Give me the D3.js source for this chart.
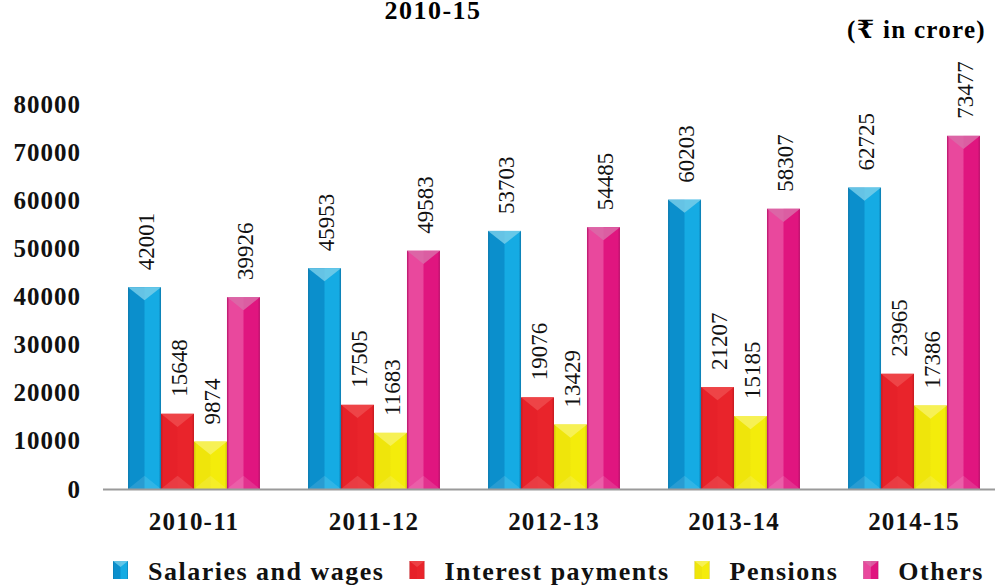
<!DOCTYPE html>
<html>
<head>
<meta charset="utf-8">
<script src="https://cdn.jsdelivr.net/npm/d3@7"></script>
<style>
  html, body { margin: 0; padding: 0; background: #fff; }
  svg { display: block; }
</style>
</head>
<body>
<svg id="chart"></svg>
<script>
// values in ₹ crore
const categories = ['2010-11', '2011-12', '2012-13', '2013-14', '2014-15'];
const seriesNames = ['Salaries and wages', 'Interest payments', 'Pensions', 'Others'];
const salaries = [42001, 45953, 53703, 60203, 62725];
const interest = [15648, 17505, 19076, 21207, 23965];
const pensions = [9874, 11683, 13429, 15185, 17386];
const others = [39926, 49583, 54485, 58307, 73477];
const yTicks = [0, 10000, 20000, 30000, 40000, 50000, 60000, 70000, 80000];

const seriesValues = [salaries, interest, pensions, others];

// shading for the bevelled bars: edge, left half, right half, top face
const shades = [
  { edge: '#0a78ad', left: '#0b8fcc', right: '#15abe3', top: '#76cde9' },
  { edge: '#c41a20', left: '#e62129', right: '#e9242b', top: '#ee4a4c' },
  { edge: '#cfc40a', left: '#efe50b', right: '#f4ec0b', top: '#f7f263' },
  { edge: '#b8106a', left: '#e9489d', right: '#e0157f', top: '#d96ba8' }
];

const width = 995, height = 586;
const svg = d3.select('#chart').attr('width', width).attr('height', height);
const serif = '"Liberation Serif", "DejaVu Serif", serif';

const x0 = d3.scaleBand()
  .domain(categories)
  .range([103, 1005])
  .paddingInner(0.267)
  .paddingOuter(0.139);

const x1 = d3.scaleBand()
  .domain(seriesNames)
  .range([0, x0.bandwidth()]);

const y = d3.scaleLinear()
  .domain([0, 80000])
  .range([489, 104.5]);

// gradients
const defs = svg.append('defs');
shades.forEach((s, i) => {
  const g = defs.append('linearGradient')
    .attr('id', 'bar' + i)
    .attr('x1', '0%').attr('x2', '100%').attr('y1', '0%').attr('y2', '0%');
  [[0, s.edge], [0.07, s.left], [0.47, s.left], [0.53, s.right], [0.93, s.right], [1, s.edge]]
    .forEach(st => g.append('stop').attr('offset', st[0]).attr('stop-color', st[1]));
});

// titles
svg.append('text')
  .attr('x', 433).attr('y', 19)
  .attr('text-anchor', 'middle')
  .style('font-family', serif).style('font-weight', 'bold')
  .style('font-size', '26px').style('letter-spacing', '1.5px')
  .text('2010-15');

svg.append('text')
  .attr('x', 986).attr('y', 38)
  .attr('text-anchor', 'end')
  .style('font-family', serif).style('font-weight', 'bold')
  .style('font-size', '25px').style('letter-spacing', '1.3px')
  .text('(₹ in crore)');

// y axis labels (no line, no ticks)
const yAxis = svg.append('g')
  .attr('transform', 'translate(87,0)')
  .call(d3.axisLeft(y).tickValues(yTicks).tickSize(0).tickPadding(6).tickFormat(d3.format('d')));
yAxis.select('.domain').remove();
yAxis.selectAll('text')
  .style('font-family', serif).style('font-weight', 'bold')
  .style('font-size', '25px').style('letter-spacing', '1px')
  .attr('fill', '#111');

// x axis labels
const xAxis = svg.append('g')
  .attr('transform', 'translate(0,489)')
  .call(d3.axisBottom(x0).tickSize(0).tickPadding(23));
xAxis.select('.domain').remove();
xAxis.selectAll('text')
  .style('font-family', serif).style('font-weight', 'bold')
  .style('font-size', '25px').style('letter-spacing', '1.2px')
  .attr('fill', '#111');

// bars
const rows = [];
categories.forEach((c, ci) => {
  seriesNames.forEach((s, si) => {
    rows.push({ cat: c, series: s, si: si, value: seriesValues[si][ci] });
  });
});

const bars = svg.append('g')
  .selectAll('g')
  .data(rows)
  .join('g')
  .attr('transform', d => `translate(${x0(d.cat) + x1(d.series)},0)`);

const bw = x1.bandwidth();

bars.append('rect')
  .attr('x', 0)
  .attr('y', d => y(d.value))
  .attr('width', bw)
  .attr('height', d => y(0) - y(d.value))
  .attr('fill', d => `url(#bar${d.si})`);

// top bevel
bars.append('path')
  .attr('d', d => {
    const t = y(d.value), h = Math.min(bw * 0.4, (y(0) - t) / 2);
    return `M0,${t}L${bw},${t}L${bw / 2},${t + h}Z`;
  })
  .attr('fill', d => shades[d.si].top)
  .attr('opacity', 0.85);

// bottom bevel
bars.append('path')
  .attr('d', d => {
    const b = y(0), h = Math.min(bw * 0.4, (y(0) - y(d.value)) / 2);
    return `M0,${b}L${bw},${b}L${bw / 2},${b - h}Z`;
  })
  .attr('fill', '#fff')
  .attr('opacity', 0.12);

// value labels, rotated
bars.append('text')
  .attr('transform', d => `translate(${bw / 2 + 1},${y(d.value) - 17}) rotate(-90)`)
  .attr('dy', '0.35em')
  .style('font-family', serif)
  .style('font-size', '23px')
  .attr('fill', '#111')
  .text(d => d.value);

// baseline
svg.append('line')
  .attr('x1', 103).attr('x2', width)
  .attr('y1', y(0) + 0.5).attr('y2', y(0) + 0.5)
  .attr('stroke', '#9a9a9a').attr('stroke-width', 2);

// legend
const legend = svg.append('g').attr('transform', 'translate(113,0)');
let lx = 0;
seriesNames.forEach((name, i) => {
  const item = legend.append('g').attr('transform', `translate(${lx},0)`);
  item.append('rect')
    .attr('x', 0).attr('y', 561).attr('width', 15).attr('height', 18)
    .attr('fill', `url(#bar${i})`);
  item.append('path')
    .attr('d', 'M0,561L15,561L7.5,567Z')
    .attr('fill', shades[i].top).attr('opacity', 0.8);
  const t = item.append('text')
    .attr('x', 35).attr('y', 580)
    .style('font-family', serif).style('font-weight', 'bold')
    .style('font-size', '26px').style('letter-spacing', '1.5px')
    .attr('fill', '#111')
    .text(name);
  lx += 35 + t.node().getComputedTextLength() + 25;
});
</script>
</body>
</html>
